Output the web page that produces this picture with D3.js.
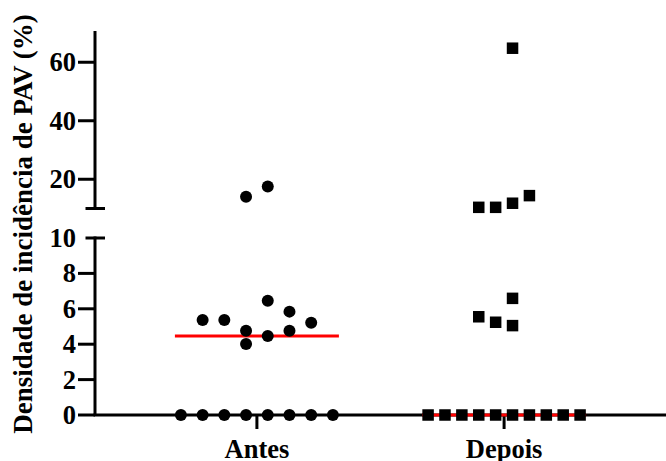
<!DOCTYPE html>
<html lang="pt">
<head>
  <meta charset="utf-8"/>
  <title>Densidade de incidência de PAV</title>
  <style>
    body { margin: 0; background: #fff; }
    svg text { font-family: "Liberation Serif", "Times New Roman", serif; font-weight: bold; fill: #000; }
  </style>
</head>
<body>
<svg id="chart" width="666" height="461"></svg>

<script src="https://cdn.jsdelivr.net/npm/d3@7/dist/d3.min.js"></script>
<script>

  // data
  const categorias = ['Antes', 'Depois'];
  const antes = [0, 0, 0, 0, 0, 0, 0, 0, 4.01, 4.46, 4.76, 4.76, 5.21, 5.37, 5.37, 5.84, 6.46, 14.05, 17.5];
  // column of each dot inside its group (scatter dot plot order)
  const antesColuna = [-3.5, -2.5, -1.5, -0.5, 0.5, 1.5, 2.5, 3.5, -0.5, 0.5, -0.5, 1.5, 2.5, -2.5, -1.5, 1.5, 0.5, -0.5, 0.5];
  const depois = [0, 0, 0, 0, 0, 0, 0, 0, 0, 0, 5.05, 5.24, 5.55, 6.59, 10.4, 10.4, 11.8, 14.4, 64.8];
  const depoisColuna = [-4.5, -3.5, -2.5, -1.5, -0.5, 0.5, 1.5, 2.5, 3.5, 4.5, 0.5, -0.5, -1.5, 0.5, -1.5, -0.5, 0.5, 1.5, 0.5];
  const ticksBaixo = [0, 2, 4, 6, 8, 10];
  const ticksCima = [20, 40, 60];
  const dominioBaixo = [0, 10];
  const dominioCima = [10, 70];
  const tituloY = 'Densidade de incidência de PAV (%)';

  const svg = d3.select('#chart');
  const axisX = 95;
  const fontSize = 26.5;

  // scales (broken y axis: two segments)
  let yLow = d3.scaleLinear().domain(dominioBaixo).range([415, 238]);
  let yHigh = d3.scaleLinear().domain(dominioCima).range([208.5, 33]);
  let y = v => v > 10 ? yHigh(v) : yLow(v);
  let x = d3.scalePoint().domain(categorias).range([axisX, 666]).padding(0.655);

  let groupWidth = 152;

  // median lines (behind dots)
  let grupos = [
    {nome: 'Antes', valores: antes, colunas: antesColuna, simbolo: 'circle'},
    {nome: 'Depois', valores: depois, colunas: depoisColuna, simbolo: 'square'}
  ];

  // axes
  let axes = svg.append('g')
    .attr('stroke', '#000')
    .attr('stroke-width', 3)
    .attr('fill', 'none');

  // x axis
  axes.append('line')
    .attr('x1', axisX - 1.5).attr('x2', 666)
    .attr('y1', yLow(0)).attr('y2', yLow(0));
  axes.selectAll('.xtick')
    .data(categorias)
    .enter()
    .append('line')
    .attr('x1', d => x(d)).attr('x2', d => x(d))
    .attr('y1', yLow(0)).attr('y2', yLow(0) + 14);

  // lower segment
  axes.append('line')
    .attr('x1', axisX).attr('x2', axisX)
    .attr('y1', yLow(10) - 1.5).attr('y2', yLow(0));
  axes.append('line')
    .attr('x1', axisX - 9.5).attr('x2', axisX + 10)
    .attr('y1', yLow(10)).attr('y2', yLow(10));
  axes.selectAll('.ytick-low')
    .data(ticksBaixo.filter(t => t !== 10))
    .enter()
    .append('line')
    .attr('x1', axisX - 17).attr('x2', axisX)
    .attr('y1', d => yLow(d)).attr('y2', d => yLow(d));

  // upper segment
  axes.append('line')
    .attr('x1', axisX).attr('x2', axisX)
    .attr('y1', yHigh(70) - 2).attr('y2', yHigh(10) + 1.5);
  axes.append('line')
    .attr('x1', axisX - 9.5).attr('x2', axisX + 10)
    .attr('y1', yHigh(10)).attr('y2', yHigh(10));
  axes.selectAll('.ytick-high')
    .data(ticksCima)
    .enter()
    .append('line')
    .attr('x1', axisX - 17).attr('x2', axisX)
    .attr('y1', d => yHigh(d)).attr('y2', d => yHigh(d));

  // tick labels
  svg.append('g')
    .selectAll('text')
    .data(ticksBaixo.map(t => ({t: t, y: yLow(t)})).concat(ticksCima.map(t => ({t: t, y: yHigh(t)}))))
    .enter()
    .append('text')
    .attr('x', axisX - 19)
    .attr('y', d => d.y)
    .attr('dy', '0.34em')
    .attr('text-anchor', 'end')
    .style('font-size', fontSize + 'px')
    .text(d => d.t);

  svg.append('g')
    .selectAll('text')
    .data(categorias)
    .enter()
    .append('text')
    .attr('x', d => x(d))
    .attr('y', 457.5)
    .attr('text-anchor', 'middle')
    .style('font-size', fontSize + 'px')
    .text(d => d);

  svg.append('text')
    .attr('transform', 'translate(32,224) rotate(-90)')
    .attr('text-anchor', 'middle')
    .style('font-size', '27px')
    .text(tituloY);

  // medians
  svg.append('g')
    .selectAll('line')
    .data(grupos)
    .enter()
    .append('line')
    .attr('x1', g => x(g.nome) - 82)
    .attr('x2', g => x(g.nome) + 82)
    .attr('y1', g => y(d3.median(g.valores)))
    .attr('y2', g => y(d3.median(g.valores)))
    .attr('stroke', '#f00')
    .attr('stroke-width', 3);

  // dots
  grupos.forEach(function (g) {
    let maxRow = d3.max(d3.rollup(g.valores, v => v.length, d => d).values());
    let half = (maxRow - 1) / 2;
    let jitter = d3.scaleLinear()
      .domain([-half, half])
      .range([x(g.nome) - groupWidth / 2, x(g.nome) + groupWidth / 2]);
    let pontos = g.valores.map((v, i) => ({v: v, c: g.colunas[i]}));
    let sel = svg.append('g').selectAll('.dot').data(pontos).enter();
    if (g.simbolo === 'circle') {
      sel.append('circle')
        .attr('cx', d => jitter(d.c))
        .attr('cy', d => y(d.v))
        .attr('r', 6)
        .attr('fill', '#000');
    } else {
      let s = 11.5;
      sel.append('rect')
        .attr('x', d => jitter(d.c) - s / 2)
        .attr('y', d => y(d.v) - s / 2)
        .attr('width', s)
        .attr('height', s)
        .attr('fill', '#000');
    }
  });

</script>
</body>
</html>
